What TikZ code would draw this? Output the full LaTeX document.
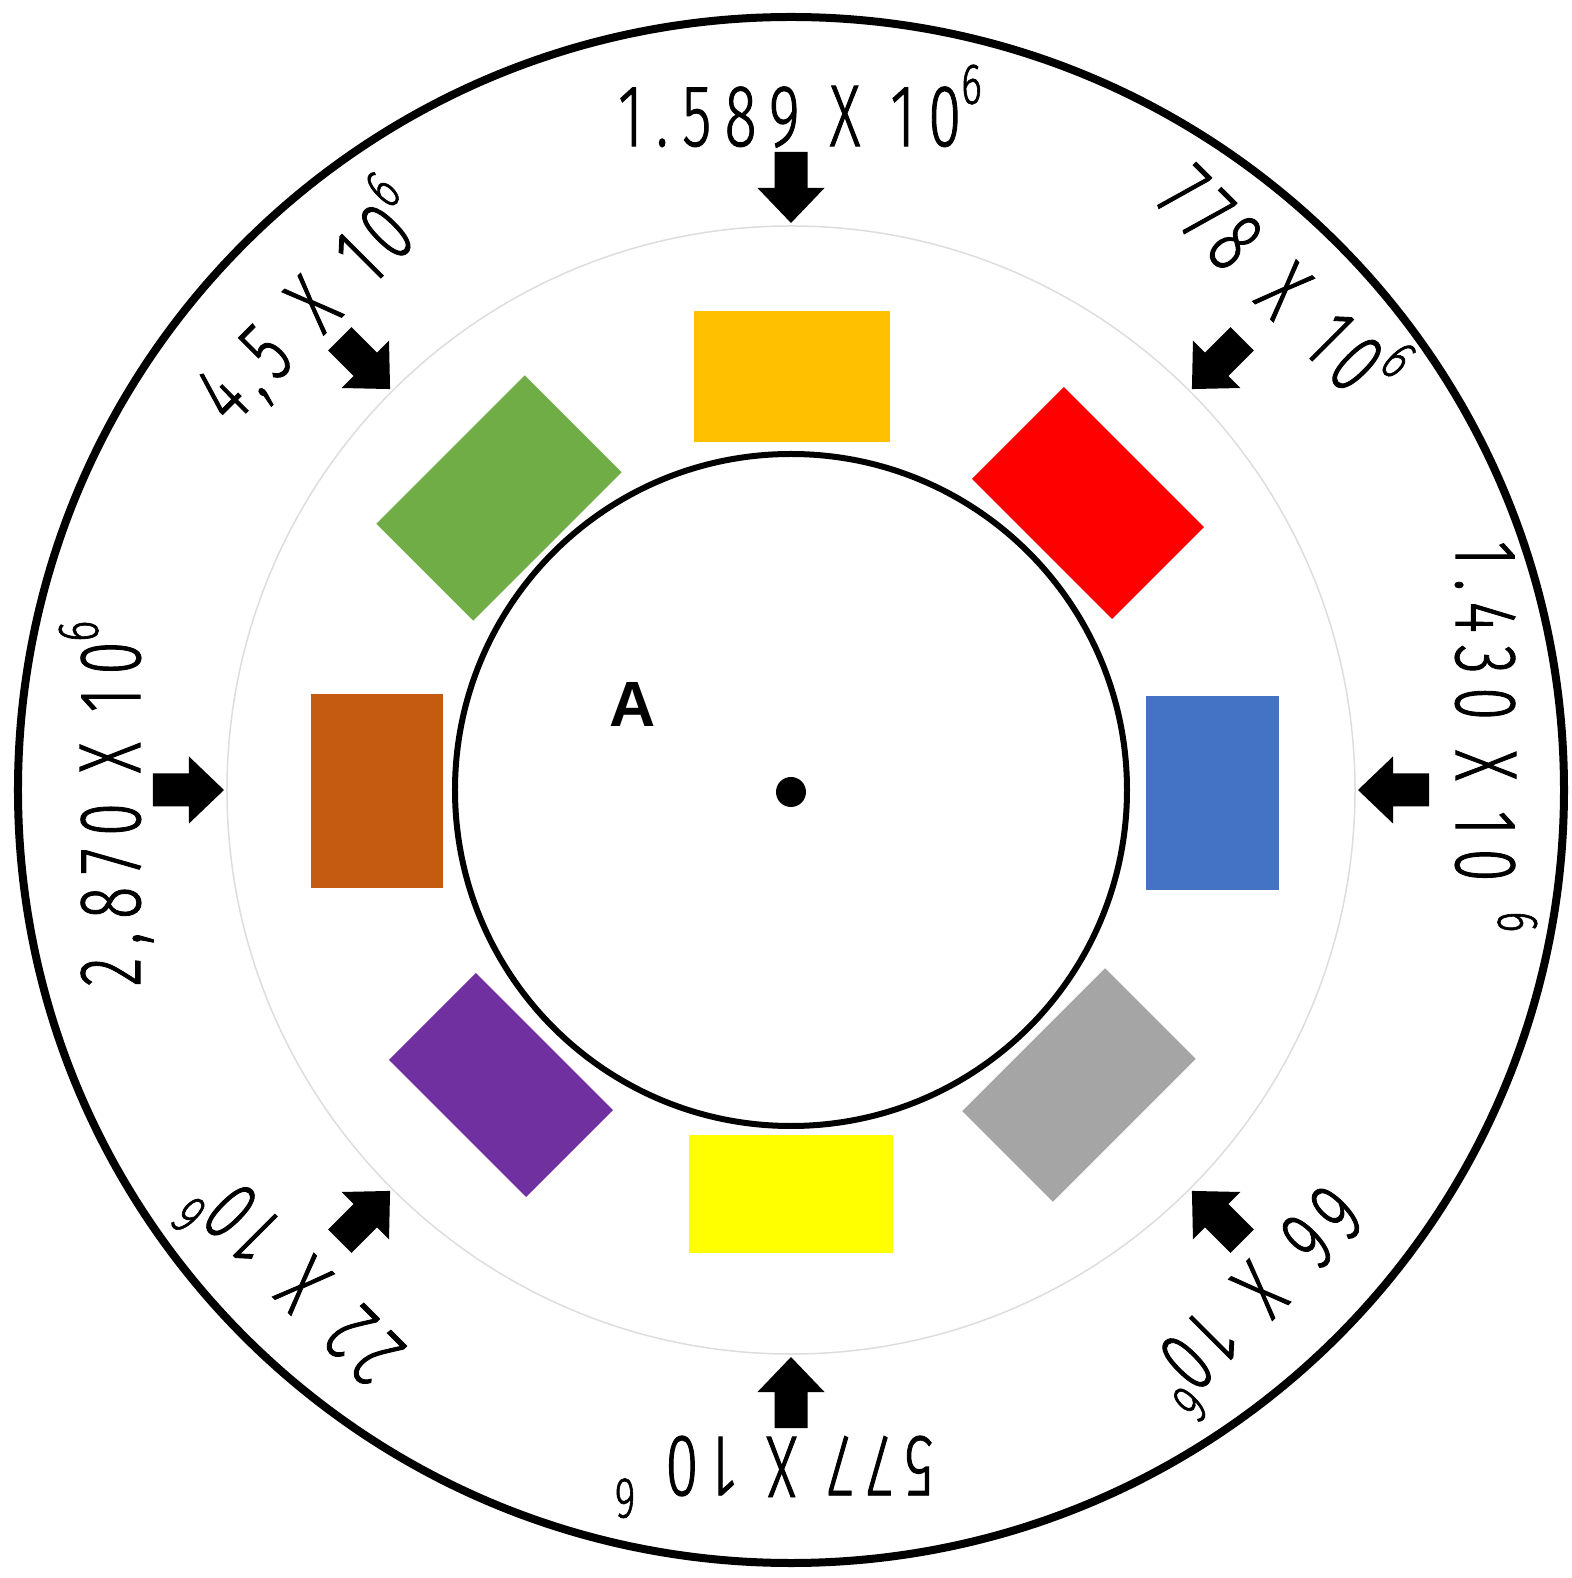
\documentclass[tikz,border=0pt]{standalone}
\usepackage{fontspec}
\usepackage{graphicx}
\newfontfamily\lblwide[FakeStretch=0.68,LetterSpace=15,FakeBold=1.0]{Fira Sans Light}
\newfontfamily\lblnarrow[FakeStretch=0.68,LetterSpace=11,FakeBold=1.0]{Fira Sans Light}
\newfontfamily\boldsans{Liberation Sans Bold}
\newcommand\sixexp{\raisebox{0.48em}{\fontsize{29}{29}\selectfont 6}}
\newcommand\gap{\hspace{0.42em}}
\definecolor{cOrange}{HTML}{FFC000}
\definecolor{cRed}{HTML}{FF0000}
\definecolor{cBlue}{HTML}{4472C4}
\definecolor{cBrown}{HTML}{C55A11}
\definecolor{cYellow}{HTML}{FFFF00}
\definecolor{cGray}{HTML}{A5A5A5}
\definecolor{cPurple}{HTML}{7030A0}
\definecolor{cGreen}{HTML}{70AD47}
\definecolor{ringgray}{HTML}{DDDDDD}
\tikzset{
  blk/.style={rectangle, inner sep=0pt, outer sep=0pt, draw=none},
  lblw/.style={anchor=base, inner sep=0pt, font=\lblwide\fontsize{44}{44}\selectfont},
  lbln/.style={anchor=base, inner sep=0pt, font=\lblnarrow\fontsize{44}{44}\selectfont},
}
\begin{document}
\begin{tikzpicture}[x=0.5pt,y=0.5pt]
\path[use as bounding box] (-791,-788) rectangle (780,790);
% circles
\draw[line width=4pt] (0,0) circle (773);
\draw[ringgray, line width=0.75pt] (0,0) circle (564);
\draw[line width=3pt] (0,0) circle (336);
\fill (0,-2) circle (15);
\node[font=\boldsans\fontsize{32}{32}\selectfont, inner sep=0pt] (A) at (-158,86) {A};
% blocks
\node[blk, fill=cOrange, minimum width=97.5pt, minimum height=65.5pt] (orange) at (1,413) {};
\node[blk, fill=cBlue, minimum width=66.5pt, minimum height=97pt] (blue) at (421,-3) {};
\node[blk, fill=cBrown, minimum width=66pt, minimum height=97pt] (brown) at (-414,-1) {};
\node[blk, fill=cYellow, minimum width=102pt, minimum height=59pt] (yellow) at (0,-404) {};
\node[blk, fill=cGreen, minimum width=105pt, minimum height=68.5pt, rotate=45] (green) at (-292,292) {};
\node[blk, fill=cRed, minimum width=99pt, minimum height=65pt, rotate=-45] (red) at (297,287) {};
\node[blk, fill=cGray, minimum width=101pt, minimum height=64pt, rotate=45] (gray) at (288,-295) {};
\node[blk, fill=cPurple, minimum width=97pt, minimum height=61.5pt, rotate=-45] (purple) at (-290,-295) {};
% block arrows
\foreach \a in {90,45,0,-45,-90,-135,180,135}{
  \fill[rotate=\a] (567,0) -- (602,33.5) -- (602,16.5) -- (638,16.5) -- (638,-16.5) -- (602,-16.5) -- (602,-33.5) -- cycle;
}
% labels
\node[lblw, rotate=0] (l1) at (89.2:644) {1.589 X 10\sixexp};
\node[lbln, rotate=-45] (l2) at (46:672) {778\gap X\gap 10\sixexp};
\node[lblw, rotate=-90] (l3) at (4.6:667) {1.430 X 10 \sixexp};
\node[lbln, rotate=-135] (l4) at (-47.6:656) {66\gap X\gap 10\sixexp};
\node[lblw, rotate=180] (l5) at (268.5:647) {577 X 10 \sixexp};
\node[lbln, rotate=135] (l6) at (224.5:665) {22\gap X\gap 10\sixexp};
\node[lblw, rotate=90] (l7) at (181.2:651) {2,870 X 10\sixexp};
\node[lbln, rotate=45] (l8) at (134.7:652) {4,5\gap X\gap 10\sixexp};
\end{tikzpicture}
\end{document}
